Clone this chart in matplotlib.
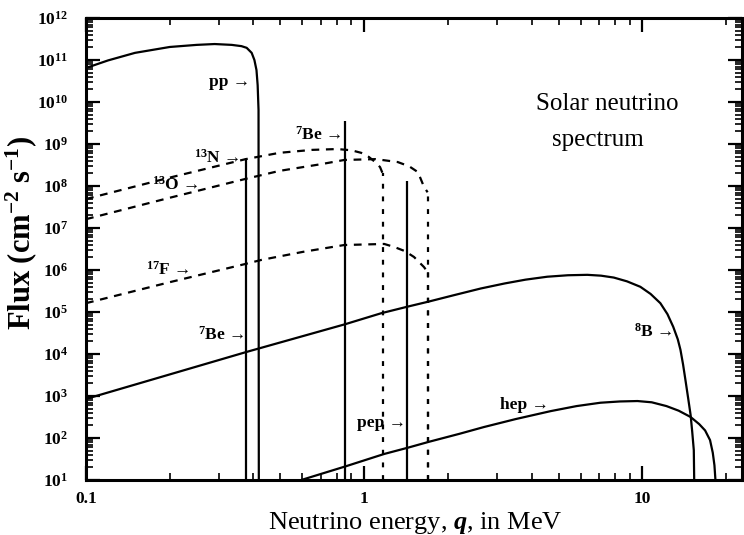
import numpy as np
import matplotlib
matplotlib.use("Agg")
import matplotlib.pyplot as plt
from matplotlib.ticker import FixedLocator, LogLocator, NullFormatter

plt.rcParams['font.family'] = ['Liberation Serif', 'DejaVu Serif']
plt.rcParams['mathtext.fontset'] = 'custom'
plt.rcParams['mathtext.rm'] = 'Liberation Serif:bold'
plt.rcParams['mathtext.bf'] = 'Liberation Serif:bold'
plt.rcParams['mathtext.it'] = 'Liberation Serif:italic:bold'
plt.rcParams['mathtext.default'] = 'rm'

# ---------------- data (energy in MeV, log10 flux in cm^-2 s^-1) ----------------
pp_E = [0.10, 0.12, 0.15, 0.20, 0.25, 0.29, 0.334, 0.362, 0.378, 0.394, 0.403,
        0.410, 0.414, 0.417, 0.418]
pp_logF = [10.81, 10.99, 11.17, 11.31, 11.36, 11.38, 11.36, 11.33, 11.29, 11.17,
           11.00, 10.76, 10.40, 9.81, 1.0]

N13_E = [0.10, 0.20, 0.375, 0.496, 0.65, 0.80, 0.90, 0.975, 1.04, 1.10, 1.14, 1.165]
N13_logF = [7.69, 8.20, 8.64, 8.79, 8.86, 8.88, 8.85, 8.79, 8.69, 8.56, 8.45, 8.30]

O15_E = [0.10, 0.20, 0.375, 0.496, 0.70, 0.848, 1.10, 1.32, 1.45, 1.56, 1.64, 1.69]
O15_logF = [7.21, 7.72, 8.17, 8.36, 8.52, 8.62, 8.64, 8.57, 8.47, 8.33, 7.98, 7.85]

F17_E = [0.10, 0.20, 0.372, 0.427, 0.60, 0.848, 1.18, 1.28, 1.40, 1.51, 1.64, 1.69]
F17_logF = [5.21, 5.71, 6.14, 6.24, 6.43, 6.595, 6.62, 6.55, 6.45, 6.31, 6.07, 5.95]

B8_E = [0.10, 0.378, 0.855, 1.15, 1.437, 1.71, 2.1, 2.625, 3.2, 3.8, 4.55, 5.4,
        6.34, 7.1, 7.89, 8.8, 9.83, 10.7, 11.6, 12.3, 12.9, 13.4, 13.7, 14.0,
        14.3, 14.6, 14.9, 15.1, 15.3, 15.35]
B8_logF = [2.93, 4.05, 4.71, 4.97, 5.13, 5.25, 5.40, 5.56, 5.68, 5.77, 5.84, 5.875,
           5.885, 5.865, 5.82, 5.73, 5.60, 5.43, 5.21, 4.95, 4.65, 4.35, 4.10, 3.75,
           3.35, 2.95, 2.55, 2.15, 1.71, 1.0]

hep_E = [0.594, 0.862, 1.18, 1.437, 1.71, 2.2, 2.69, 3.5, 4.68, 5.8, 7.07, 8.3,
         9.6, 10.8, 12.2, 13.5, 14.9, 16.0, 16.8, 17.5, 17.9, 18.15, 18.3]
hep_logF = [1.0, 1.33, 1.62, 1.77, 1.91, 2.10, 2.26, 2.45, 2.64, 2.76, 2.84, 2.87,
            2.88, 2.85, 2.76, 2.65, 2.50, 2.33, 2.18, 1.95, 1.65, 1.35, 1.0]

# line sources: energy (MeV), log10 flux
line_names = ['7Be', '7Be', 'pep']
line_E = [0.376, 0.855, 1.42]
line_logF = [8.67, 9.55, 8.12]

ytick_vals = [1e1, 1e2, 1e3, 1e4, 1e5, 1e6, 1e7, 1e8, 1e9, 1e10, 1e11, 1e12]
ytick_labels = [r'$10^{%d}$' % k for k in range(1, 13)]
xtick_vals = [0.1, 1, 10]
xtick_labels = ['0.1', '1', '10']

# labels: text, energy of right edge, log10 flux
label_texts = ['pp →', r'$^{13}$N →', r'$^{13}$O →', r'$^{17}$F →', r'$^{7}$Be →',
               r'$^{7}$Be →', 'pep →', 'hep →', r'$^{8}$B →']
label_E = [0.390, 0.356, 0.254, 0.235, 0.371, 0.827, 1.414, 4.60, 12.8]
label_logF = [10.48, 8.67, 8.02, 6.0, 4.45, 9.21, 2.36, 2.79, 4.52]

# ---------------- figure ----------------
fig = plt.figure(figsize=(7.44, 5.35), dpi=100)
ax = fig.add_axes([86 / 744, (535 - 480) / 535, (742 - 86) / 744, (480 - 18) / 535])
ax.set_xscale('log')
ax.set_yscale('log')
ymin, ymax = 10, 1e12
ax.set_xlim(0.1, 22.8)
ax.set_ylim(ymin, ymax)

lw = 1.6
ax.plot(pp_E, 10 ** np.array(pp_logF), color='black', lw=lw)
ax.plot(B8_E, 10 ** np.array(B8_logF), color='black', lw=lw)
ax.plot(hep_E, 10 ** np.array(hep_logF), color='black', lw=lw)

for E, lf in zip(line_E, line_logF):
    ax.vlines(E, ymin, 10 ** lf, color='black', lw=lw)

for Es, lfs in [(N13_E, N13_logF), (O15_E, O15_logF), (F17_E, F17_logF)]:
    ax.plot(Es, 10 ** np.array(lfs), color='black', lw=lw, linestyle=(0, (3.5, 3.0)))
    ax.vlines(Es[-1], ymin, 10 ** lfs[-1], color='black', lw=lw,
              linestyle=(0, (2.2, 3.5)))

for t, E, lf in zip(label_texts, label_E, label_logF):
    ax.text(E, 10 ** lf, t, ha='right', va='center', fontsize=12.5,
            fontweight='bold')

ax.text(7.49, 10 ** 9.95, 'Solar neutrino', ha='center', va='center', fontsize=18)
ax.text(6.9, 10 ** 9.10, 'spectrum', ha='center', va='center', fontsize=18)

# ticks
ax.yaxis.set_major_locator(FixedLocator(ytick_vals))
ax.set_yticklabels(ytick_labels)
ax.yaxis.set_minor_locator(LogLocator(base=10, subs=np.arange(2, 10), numticks=100))
ax.yaxis.set_minor_formatter(NullFormatter())
ax.xaxis.set_major_locator(FixedLocator(xtick_vals))
ax.set_xticklabels(xtick_labels)
ax.xaxis.set_minor_locator(LogLocator(base=10, subs=np.arange(2, 10), numticks=100))
ax.xaxis.set_minor_formatter(NullFormatter())

ax.tick_params(which='both', direction='in', top=True, right=True)
ax.tick_params(which='major', length=10, width=1.6, labelsize=12.5, pad=13)
ax.tick_params(which='minor', length=5, width=1.2)
for lab in ax.get_xticklabels() + ax.get_yticklabels():
    lab.set_fontweight('bold')
ax.tick_params(axis='x', which='major', pad=8)

for s in ax.spines.values():
    s.set_linewidth(2.2)

ax.set_xlabel(r'Neutrino energy, $\mathit{q}$, in MeV', fontsize=19)
ax.xaxis.set_label_coords(0.502, -0.066)
ax.set_ylabel(r'Flux (cm$^{-2}$ s$^{-1}$)', fontsize=22, fontweight='bold')
ax.yaxis.set_label_coords(-0.072, 0.535)

fig.savefig('out.png', dpi=100)
